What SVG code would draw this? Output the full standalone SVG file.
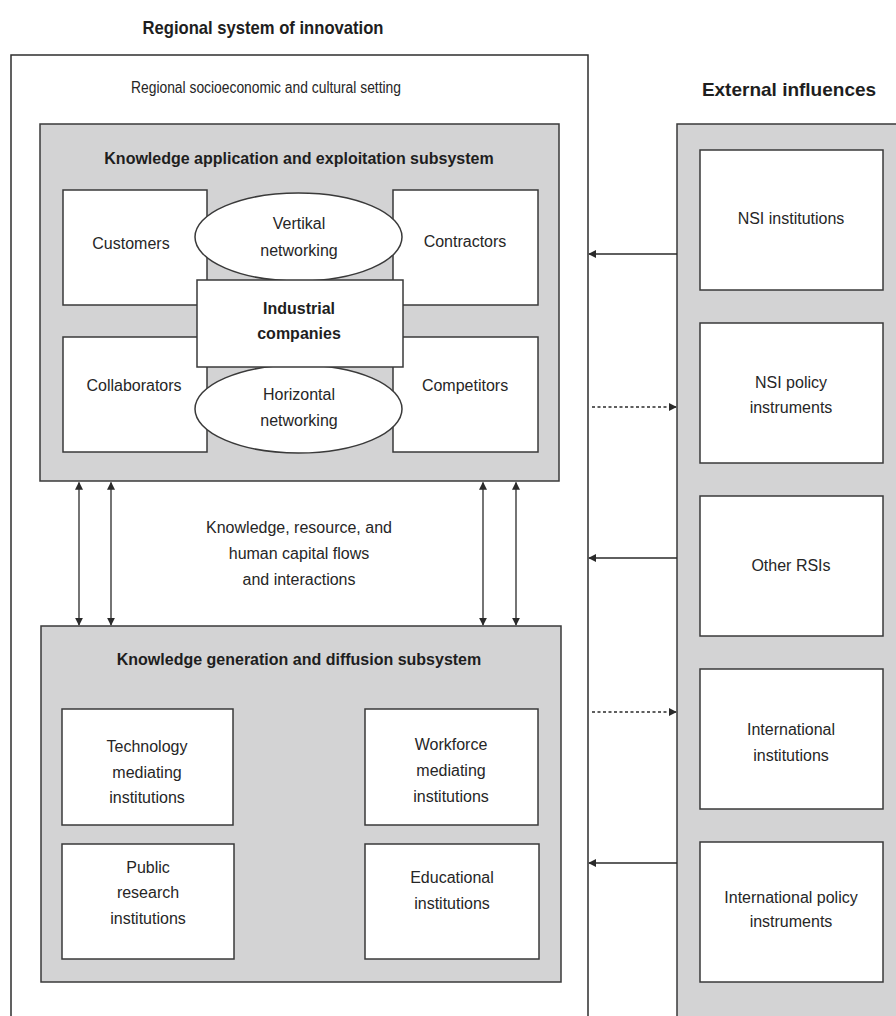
<svg xmlns="http://www.w3.org/2000/svg" width="896" height="1016" viewBox="0 0 896 1016">
<defs>
<style>
.t{font-family:"Liberation Sans",Arial,sans-serif;font-size:16px;fill:#262626;text-anchor:middle}
.h{font-family:"Liberation Sans",Arial,sans-serif;font-size:16px;font-weight:bold;fill:#1e1e1e;text-anchor:middle}
.ttl{font-family:"Liberation Sans",Arial,sans-serif;font-size:19px;font-weight:bold;fill:#1e1e1e;text-anchor:middle}
.gray{fill:#d3d3d4;stroke:#3a3a3a;stroke-width:1.5}
.box{fill:#ffffff;stroke:#3a3a3a;stroke-width:1.5}
.frame{fill:#ffffff;stroke:#2e2e2e;stroke-width:1.5}
.ln{stroke:#2a2a2a;stroke-width:1.3;fill:none}
.dot{stroke:#2a2a2a;stroke-width:1.3;fill:none;stroke-dasharray:3 2.5}
</style>
<marker id="ah" viewBox="0 0 10 10" refX="9" refY="5" markerWidth="8" markerHeight="8" markerUnits="userSpaceOnUse" orient="auto-start-reverse">
<path d="M0,0 L10,5 L0,10 z" fill="#2a2a2a"/>
</marker>
</defs>
<rect width="896" height="1016" fill="#ffffff"/>

<g id="rsi">
<text class="ttl" x="263" y="34" textLength="241" lengthAdjust="spacingAndGlyphs">Regional system of innovation</text>
<path class="frame" d="M11,1017 L11,55 L588,55 L588,1017"/>
<text class="t" x="266" y="93" textLength="270" lengthAdjust="spacingAndGlyphs">Regional socioeconomic and cultural setting</text>
</g>

<g id="external">
<text class="ttl" x="789" y="96">External influences</text>
<rect class="gray" x="677" y="124" width="230" height="900"/>
</g>

<g id="application-subsystem">
<rect class="gray" x="40" y="124" width="519" height="357"/>
<text class="h" x="299" y="164">Knowledge application and exploitation subsystem</text>
</g>
<g id="customers">
<rect class="box" x="63" y="190" width="144" height="115"/>
<text class="t" x="131" y="249">Customers</text>
</g>
<g id="contractors">
<rect class="box" x="393" y="190" width="145" height="115"/>
<text class="t" x="465" y="247">Contractors</text>
</g>
<g id="collaborators">
<rect class="box" x="63" y="337" width="144" height="115"/>
<text class="t" x="134" y="391">Collaborators</text>
</g>
<g id="competitors">
<rect class="box" x="393" y="337" width="145" height="115"/>
<text class="t" x="465" y="391">Competitors</text>
</g>
<g id="vertikal-networking">
<ellipse class="box" cx="298.5" cy="237" rx="103.5" ry="44"/>
<text class="t" x="299" y="229">Vertikal</text>
<text class="t" x="299" y="256">networking</text>
</g>
<g id="horizontal-networking">
<ellipse class="box" cx="298.5" cy="409" rx="103.5" ry="44"/>
<text class="t" x="299" y="400">Horizontal</text>
<text class="t" x="299" y="426">networking</text>
</g>
<g id="industrial-companies">
<rect class="box" x="197" y="280" width="206" height="87"/>
<text class="h" x="299" y="314">Industrial</text>
<text class="h" x="299" y="339">companies</text>
</g>

<g id="flows-label">
<text class="t" x="299" y="533">Knowledge, resource, and</text>
<text class="t" x="299" y="559">human capital flows</text>
<text class="t" x="299" y="585">and interactions</text>
</g>

<g id="generation-subsystem">
<rect class="gray" x="41" y="626" width="520" height="356"/>
<text class="h" x="299" y="665">Knowledge generation and diffusion subsystem</text>
</g>
<g id="technology">
<rect class="box" x="62" y="709" width="171" height="116"/>
<text class="t" x="147" y="752">Technology</text>
<text class="t" x="147" y="778">mediating</text>
<text class="t" x="147" y="803">institutions</text>
</g>
<g id="workforce">
<rect class="box" x="365" y="709" width="173" height="116"/>
<text class="t" x="451" y="750">Workforce</text>
<text class="t" x="451" y="776">mediating</text>
<text class="t" x="451" y="802">institutions</text>
</g>
<g id="public-research">
<rect class="box" x="62" y="844" width="172" height="115"/>
<text class="t" x="148" y="873">Public</text>
<text class="t" x="148" y="898">research</text>
<text class="t" x="148" y="924">institutions</text>
</g>
<g id="educational">
<rect class="box" x="365" y="844" width="174" height="115"/>
<text class="t" x="452" y="883">Educational</text>
<text class="t" x="452" y="909">institutions</text>
</g>

<g id="nsi-institutions">
<rect class="box" x="700" y="150" width="183" height="140"/>
<text class="t" x="791" y="224">NSI institutions</text>
</g>
<g id="nsi-policy">
<rect class="box" x="700" y="323" width="183" height="140"/>
<text class="t" x="791" y="388">NSI policy</text>
<text class="t" x="791" y="413">instruments</text>
</g>
<g id="other-rsis">
<rect class="box" x="700" y="496" width="183" height="140"/>
<text class="t" x="791" y="571">Other RSIs</text>
</g>
<g id="international-institutions">
<rect class="box" x="700" y="669" width="183" height="140"/>
<text class="t" x="791" y="735">International</text>
<text class="t" x="791" y="761">institutions</text>
</g>
<g id="international-policy">
<rect class="box" x="700" y="842" width="183" height="140"/>
<text class="t" x="791" y="903">International policy</text>
<text class="t" x="791" y="927">instruments</text>
</g>

<g id="connectors">
<line class="ln" x1="79" y1="482.5" x2="79" y2="625" marker-start="url(#ah)" marker-end="url(#ah)"/>
<line class="ln" x1="111" y1="482.5" x2="111" y2="625" marker-start="url(#ah)" marker-end="url(#ah)"/>
<line class="ln" x1="483" y1="482.5" x2="483" y2="625" marker-start="url(#ah)" marker-end="url(#ah)"/>
<line class="ln" x1="516" y1="482.5" x2="516" y2="625" marker-start="url(#ah)" marker-end="url(#ah)"/>
<line class="ln" x1="677" y1="254" x2="589" y2="254" marker-end="url(#ah)"/>
<line class="dot" x1="592" y1="407" x2="676" y2="407" marker-end="url(#ah)"/>
<line class="ln" x1="677" y1="558" x2="589" y2="558" marker-end="url(#ah)"/>
<line class="dot" x1="592" y1="712" x2="676" y2="712" marker-end="url(#ah)"/>
<line class="ln" x1="677" y1="863" x2="589" y2="863" marker-end="url(#ah)"/>
</g>
</svg>
